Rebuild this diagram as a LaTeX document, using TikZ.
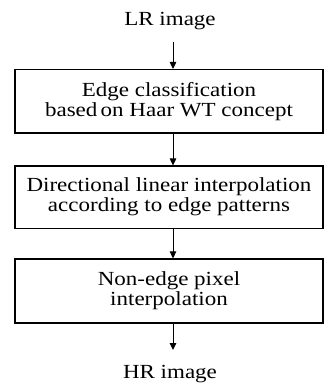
\documentclass[tikz,border=0pt]{standalone}
\usepackage{fontspec}
\setmainfont{Liberation Serif}[FakeStretch=1.15]
\usetikzlibrary{arrows.meta}
\begin{document}
\begin{tikzpicture}[x=1pt,y=-1pt,
  stepbox/.style={draw, line width=1.2pt, minimum width=308pt, inner sep=0pt, align=center,
    font=\fontsize{20}{20}\selectfont},
  lbl/.style={inner sep=0pt, font=\fontsize{20}{20}\selectfont},
  arr/.style={line width=0.9pt, -{Triangle[length=7pt,width=6.5pt]}}]
\useasboundingbox (0,0) rectangle (324,386);
\node[lbl, anchor=base] (lr) at (170,25) {LR image};
\node[stepbox, minimum height=63.5pt] (b1) at (169,101.3) {Edge classification\\based\,on Haar WT concept};
\node[stepbox, minimum height=62.3pt] (b2) at (169,197.2) {Directional linear interpolation\\according to edge patterns};
\node[stepbox, minimum height=64pt] (b3) at (169,291) {Non-edge pixel\\interpolation};
\node[lbl, anchor=base] (hr) at (170,378) {HR image};
\coordinate (a0) at (173,42);
\draw[arr] (a0) -- (a0 |- b1.north);
\draw[arr] (b1.south -| a0) -- (b2.north -| a0);
\draw[arr] (b2.south -| a0) -- (b3.north -| a0);
\coordinate (a3) at (173,350);
\draw[arr] (b3.south -| a0) -- (a3);
\end{tikzpicture}
\end{document}
